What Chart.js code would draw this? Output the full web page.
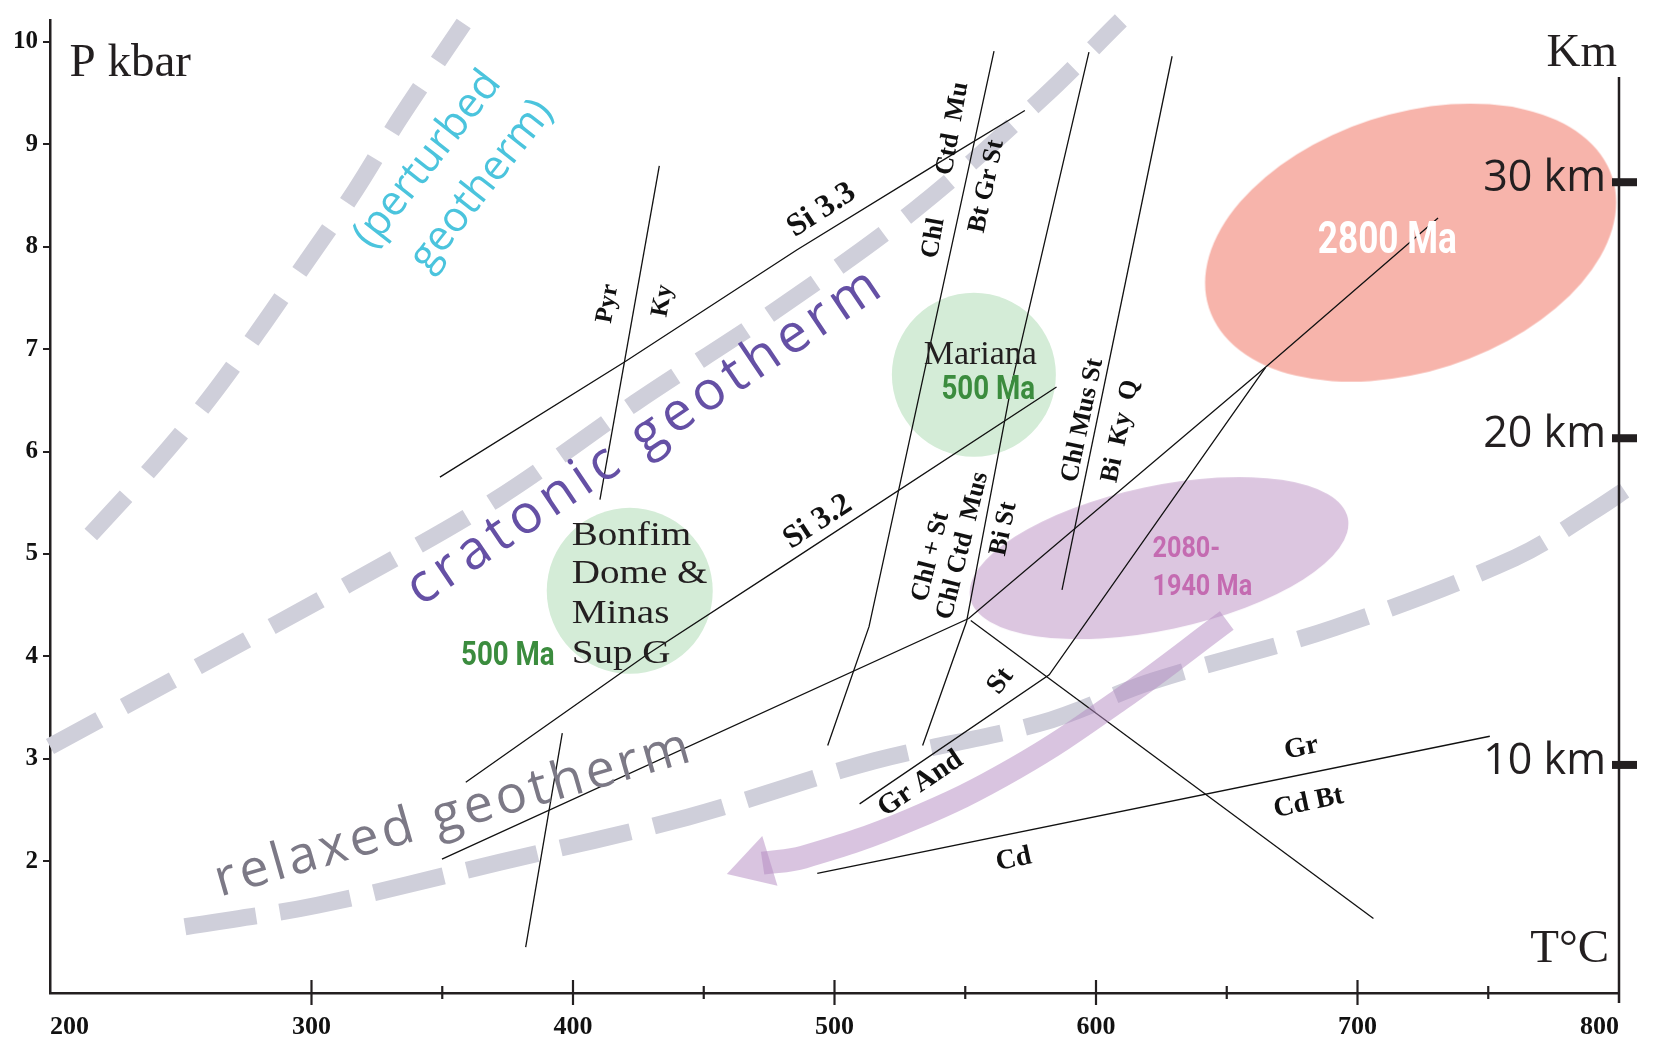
<!DOCTYPE html>
<html>
<head>
<meta charset="utf-8">
<script src="https://cdn.jsdelivr.net/npm/chart.js@4.4.1/dist/chart.umd.min.js"></script>
<style>
html,body{margin:0;padding:0;background:#fff;}
#wrap{width:1659px;height:1040px;position:relative;}
</style>
</head>
<body>
<div id="wrap"><canvas id="myChart"></canvas></div>
<script>
// ejes: temperatura (C) y presion (kbar)
var tempTicks = [200, 300, 400, 500, 600, 700, 800];
var tempMinor = [350, 450, 550, 650, 750];
var presTicks = [2, 3, 4, 5, 6, 7, 8, 9, 10];
var kmLabels = ['10 km', '20 km', '30 km'];
var kmPres = [2.94, 6.13, 8.63];

// geotermas
var perturbedT = [215.6, 239.9, 260.7, 279.8, 298.2, 316.5, 333.7, 358.2];
var perturbedP = [5.19, 5.87, 6.51, 7.18, 7.86, 8.54, 9.25, 10.18];
var cratonicT = [200, 256.5, 313.8, 370.4, 424.0, 478.1, 530.7, 579.8, 609.5];
var cratonicP = [3.12, 3.90, 4.70, 5.53, 6.48, 7.39, 8.36, 9.46, 10.21];
var relaxedT = [251.6, 302.2, 372.0, 443.8, 515.3, 579.0, 621.9, 691.2, 760.1, 790.9, 803.3];
var relaxedP = [1.36, 1.57, 1.99, 2.43, 2.98, 3.35, 3.76, 4.28, 4.96, 5.43, 5.64];

// reacciones
var pyrKyT = [433.0, 410.3];               var pyrKyP = [8.79, 5.53];
var si33T = [349.1, 420.0, 485.7, 537.9, 572.8]; var si33P = [5.75, 6.88, 7.97, 8.79, 9.33];
var si32T = [359.0, 428.5, 483.2, 584.9];  var si32P = [2.77, 4.02, 4.93, 6.63];
var lineaAT = [349.9, 551.3, 665.6, 730.8]; var lineaAP = [2.02, 4.37, 6.84, 8.28];
var grAndT = [509.6, 582.1, 664.8];        var grAndP = [2.56, 3.82, 6.82];
var stT = [552.1, 706.1];                  var stP = [4.35, 1.44];
var cdT = [493.4, 750.6];                  var cdP = [1.88, 3.22];
var bajaT = [381.9, 395.9];                var bajaP = [1.16, 3.25];
var chlT = [561.0, 513.2, 497.4];          var chlP = [9.91, 4.29, 3.13];
var biStT = [597.3, 567.9, 550.5, 533.7];  var biStP = [9.90, 6.68, 4.34, 3.13];
var biKyT = [629.1, 587.0];                var biKyP = [9.86, 4.65];

// zonas (centros)
var bonfimT = [421.7];  var bonfimP = [4.64];
var marianaT = [553.3]; var marianaP = [6.75];
var ma2800T = [720.3];  var ma2800P = [8.04];
var ma2080T = [624.1];  var ma2080P = [4.96];

// trayectoria (flecha)
var flechaT = [650.0, 609.4, 569.3, 528.7, 488.2, 472.5];
var flechaP = [4.35, 3.58, 2.91, 2.40, 2.04, 1.98];
var puntaT = [469.8]; var puntaP = [1.96];

var SERIF = "'Liberation Serif', serif";
var SANS = "'Open Sans', sans-serif";
var NEGRO = '#231f20';
var GRIS = '#cfcfda';
var LILA = 'rgba(180,138,194,0.5)';

function serie(T, P) {
    return T.map(function (t, i) { return {x: t, y: P[i]}; });
}

function elipse(a, b, rot, color) {
    var c = document.createElement('canvas');
    var s = Math.ceil(2 * Math.max(a, b)) + 4;
    c.width = s; c.height = s;
    var g = c.getContext('2d');
    g.fillStyle = color;
    g.beginPath();
    g.ellipse(s / 2, s / 2, a, b, rot * Math.PI / 180, 0, 2 * Math.PI);
    g.fill();
    return c;
}

function reaccion(T, P) {
    return {data: serie(T, P), showLine: true, borderColor: '#111', borderWidth: 1.3,
            pointRadius: 0, tension: 0, order: 2, clip: false};
}

function geoterma(T, P, dash) {
    return {data: serie(T, P), showLine: true, borderColor: GRIS, borderWidth: 17,
            borderDash: dash, borderCapStyle: 'butt', pointRadius: 0, tension: 0.35,
            order: 3, clip: false};
}

// textos del diagrama
var etiquetas = [
    {text: 'P kbar', t: 207.5, p: 9.663, font: '47px ' + SERIF, color: NEGRO, align: 'left', base: 'alphabetic'},
    {text: 'Km', t: 772.3, p: 9.76, font: '47px ' + SERIF, color: NEGRO, align: 'left', base: 'alphabetic'},
    {text: 'T°C', t: 766.1, p: 1.017, font: '47px ' + SERIF, color: NEGRO, align: 'left', base: 'alphabetic'},
    {text: '(perturbed', t: 344.4, p: 8.852, rot: -52, font: '42px ' + SANS, color: '#4bc4dd'},
    {text: 'geotherm)', t: 365.1, p: 8.60, rot: -52, font: '42px ' + SANS, color: '#4bc4dd'},
    {text: 'cratonic geotherm', t: 428.0, p: 6.149, rot: -34, font: '54px ' + SANS, color: '#6550a5', ls: '6px'},
    {text: 'relaxed geotherm', t: 354.6, p: 2.46, rot: -16, font: '52px ' + SANS, color: '#7c7986', ls: '4px'},
    {text: 'Pyr', t: 413.3, p: 7.444, rot: -80, font: 'bold 25px ' + SERIF, color: '#111'},
    {text: 'Ky', t: 434.3, p: 7.471, rot: -80, font: 'bold 25px ' + SERIF, color: '#111'},
    {text: 'Si 3.3', t: 495.1, p: 8.357, rot: -33, font: 'bold 32px ' + SERIF, color: '#111'},
    {text: 'Chl', t: 537.9, p: 8.084, rot: -80, font: 'bold 26px ' + SERIF, color: '#111'},
    {text: 'Ctd  Mu', t: 545.2, p: 9.153, rot: -80, font: 'bold 26px ' + SERIF, color: '#111'},
    {text: 'Bt Gr St', t: 558.2, p: 8.59, rot: -78, font: 'bold 26px ' + SERIF, color: '#111'},
    {text: 'Si 3.2', t: 493.6, p: 5.313, rot: -33, font: 'bold 32px ' + SERIF, color: '#111'},
    {text: 'Chl + St', t: 536.8, p: 4.973, rot: -76, font: 'bold 26px ' + SERIF, color: '#111'},
    {text: 'Chl Ctd  Mus', t: 549.0, p: 5.08, rot: -76, font: 'bold 26px ' + SERIF, color: '#111'},
    {text: 'Bi St', t: 564.7, p: 5.245, rot: -78, font: 'bold 26px ' + SERIF, color: '#111'},
    {text: 'Chl Mus St', t: 594.9, p: 6.305, rot: -78, font: 'bold 26px ' + SERIF, color: '#111'},
    {text: 'Bi  Ky  Q', t: 609.4, p: 6.198, rot: -78, font: 'bold 26px ' + SERIF, color: '#111'},
    {text: 'St', t: 563.5, p: 3.757, rot: -53, font: 'bold 28px ' + SERIF, color: '#111'},
    {text: 'Gr And', t: 532.9, p: 2.755, rot: -34, font: 'bold 29px ' + SERIF, color: '#111'},
    {text: 'Gr', t: 678.6, p: 3.105, rot: -12, font: 'bold 28px ' + SERIF, color: '#111'},
    {text: 'Cd Bt', t: 681.3, p: 2.57, rot: -12, font: 'bold 28px ' + SERIF, color: '#111'},
    {text: 'Cd', t: 568.5, p: 2.016, rot: -12, font: 'bold 28px ' + SERIF, color: '#111'},
    {text: 'Bonfim', t: 399.5, p: 5.086, font: '34px ' + SERIF, color: NEGRO, align: 'left', base: 'alphabetic', sx: 1.15},
    {text: 'Dome &', t: 399.5, p: 4.713, font: '34px ' + SERIF, color: NEGRO, align: 'left', base: 'alphabetic', sx: 1.15},
    {text: 'Minas', t: 399.5, p: 4.324, font: '34px ' + SERIF, color: NEGRO, align: 'left', base: 'alphabetic', sx: 1.15},
    {text: 'Sup G', t: 399.5, p: 3.935, font: '34px ' + SERIF, color: NEGRO, align: 'left', base: 'alphabetic', sx: 1.15},
    {text: '500 Ma', t: 393.0, p: 3.919, font: 'bold 33px Roboto', color: '#3b8c3e', align: 'right', base: 'alphabetic', sx: 0.84},
    {text: 'Mariana', t: 534.1, p: 6.852, font: '34px ' + SERIF, color: NEGRO, align: 'left', base: 'alphabetic'},
    {text: '500 Ma', t: 540.9, p: 6.509, font: 'bold 33px Roboto', color: '#3b8c3e', align: 'left', base: 'alphabetic', sx: 0.84},
    {text: '2800 Ma', t: 684.8, p: 7.938, font: 'bold 44px Roboto', color: '#ffffff', align: 'left', base: 'alphabetic', sx: 0.8},
    {text: '2080-', t: 621.6, p: 4.972, font: 'bold 30px Roboto', color: '#c46bb1', align: 'left', base: 'alphabetic', sx: 0.84},
    {text: '1940 Ma', t: 621.6, p: 4.60, font: 'bold 30px Roboto', color: '#c46bb1', align: 'left', base: 'alphabetic', sx: 0.84}
];

var decoraciones = {
    id: 'decoraciones',
    afterDraw: function (chart) {
        var ctx = chart.ctx, xs = chart.scales.x, ys = chart.scales.y, area = chart.chartArea;
        ctx.save();
        ctx.strokeStyle = NEGRO;
        ctx.fillStyle = NEGRO;
        // marcas del eje de temperatura (cruzan el eje)
        ctx.lineWidth = 2.2;
        tempTicks.forEach(function (t) {
            if (t === 200 || t === 800) return;
            var x = xs.getPixelForValue(t);
            ctx.beginPath(); ctx.moveTo(x, area.bottom - 13); ctx.lineTo(x, area.bottom + 12); ctx.stroke();
        });
        tempMinor.forEach(function (t) {
            var x = xs.getPixelForValue(t);
            ctx.beginPath(); ctx.moveTo(x, area.bottom - 7); ctx.lineTo(x, area.bottom + 6); ctx.stroke();
        });
        // eje de profundidad
        ctx.lineWidth = 2.5;
        ctx.beginPath(); ctx.moveTo(area.right, 77); ctx.lineTo(area.right, area.bottom + 10); ctx.stroke();
        ctx.font = '43px ' + SANS;
        ctx.textAlign = 'right';
        ctx.textBaseline = 'alphabetic';
        kmPres.forEach(function (p, i) {
            var y = ys.getPixelForValue(p);
            ctx.fillRect(area.right - 7, y - 4, 25, 8);
            ctx.fillText(kmLabels[i], area.right - 13, y + 9);
        });
        // textos
        etiquetas.forEach(function (e) {
            ctx.save();
            ctx.translate(xs.getPixelForValue(e.t), ys.getPixelForValue(e.p));
            if (e.rot) ctx.rotate(e.rot * Math.PI / 180);
            if (e.sx) ctx.scale(e.sx, 1);
            ctx.font = e.font;
            ctx.fillStyle = e.color;
            ctx.textAlign = e.align || 'center';
            ctx.textBaseline = e.base || 'middle';
            ctx.letterSpacing = e.ls || '0px';
            ctx.fillText(e.text, 0, 0);
            ctx.restore();
        });
        ctx.restore();
    }
};

var datasets = [
    // punta de la flecha
    {data: serie(puntaT, puntaP), pointStyle: 'triangle', pointRadius: 30, pointRotation: 253,
     pointBackgroundColor: LILA, pointBorderWidth: 0, order: 0, clip: false},
    // cuerpo de la flecha
    {data: serie(flechaT, flechaP), showLine: true, borderColor: LILA, borderWidth: 23,
     borderCapStyle: 'butt', pointRadius: 0, tension: 0.4, order: 1, clip: false},
    reaccion(pyrKyT, pyrKyP),
    reaccion(si33T, si33P),
    reaccion(si32T, si32P),
    reaccion(lineaAT, lineaAP),
    reaccion(grAndT, grAndP),
    reaccion(stT, stP),
    reaccion(cdT, cdP),
    reaccion(bajaT, bajaP),
    reaccion(chlT, chlP),
    reaccion(biStT, biStP),
    reaccion(biKyT, biKyP),
    geoterma(perturbedT, perturbedP, [52, 32]),
    geoterma(cratonicT, cratonicP, [56, 28]),
    geoterma(relaxedT, relaxedP, [72, 24]),
    // zonas
    {data: serie(bonfimT, bonfimP), pointStyle: 'circle', pointRadius: 83,
     pointBackgroundColor: '#d4ecd7', pointBorderWidth: 0, order: 4, clip: false},
    {data: serie(marianaT, marianaP), pointStyle: 'circle', pointRadius: 82,
     pointBackgroundColor: '#d4ecd7', pointBorderWidth: 0, order: 4, clip: false},
    {data: serie(ma2800T, ma2800P), pointStyle: elipse(212, 129, -18, '#f7b4ab'), pointRadius: 10,
     order: 4, clip: false},
    {data: serie(ma2080T, ma2080P), pointStyle: elipse(193, 72, -12, '#dcc6e0'), pointRadius: 10,
     order: 4, clip: false}
];

var ctx = document.getElementById('myChart').getContext('2d');
var chart = new Chart(ctx, {
    type: 'scatter',
    data: {datasets: datasets},
    plugins: [decoraciones],
    options: {
        responsive: true,
        maintainAspectRatio: false,
        devicePixelRatio: 1,
        animation: false,
        events: [],
        layout: {autoPadding: false, padding: {left: 0, right: 40, top: 16, bottom: 0}},
        plugins: {legend: {display: false}, tooltip: {enabled: false}},
        scales: {
            x: {
                type: 'linear', position: 'bottom', min: 200, max: 800,
                afterBuildTicks: function (s) { s.ticks = tempTicks.map(function (v) { return {value: v}; }); },
                afterFit: function (s) { s.height = 47; },
                grid: {display: false, drawTicks: false},
                border: {display: true, color: NEGRO, width: 2.5},
                ticks: {align: 'inner', padding: 19, maxRotation: 0, autoSkip: false, color: '#111',
                        font: {family: SERIF, size: 26, weight: 'bold'}}
            },
            y: {
                type: 'linear', position: 'left', min: 0.713, max: 10.214,
                afterBuildTicks: function (s) { s.ticks = presTicks.map(function (v) { return {value: v}; }); },
                afterFit: function (s) { s.width = 50; },
                grid: {display: true, drawOnChartArea: false, drawTicks: true, tickLength: 7,
                       color: NEGRO, lineWidth: 2},
                border: {display: true, color: NEGRO, width: 2.5},
                ticks: {padding: 5, color: '#111', font: {family: SERIF, size: 25, weight: 'bold'}}
            }
        }
    }
});
</script>
</body>
</html>
